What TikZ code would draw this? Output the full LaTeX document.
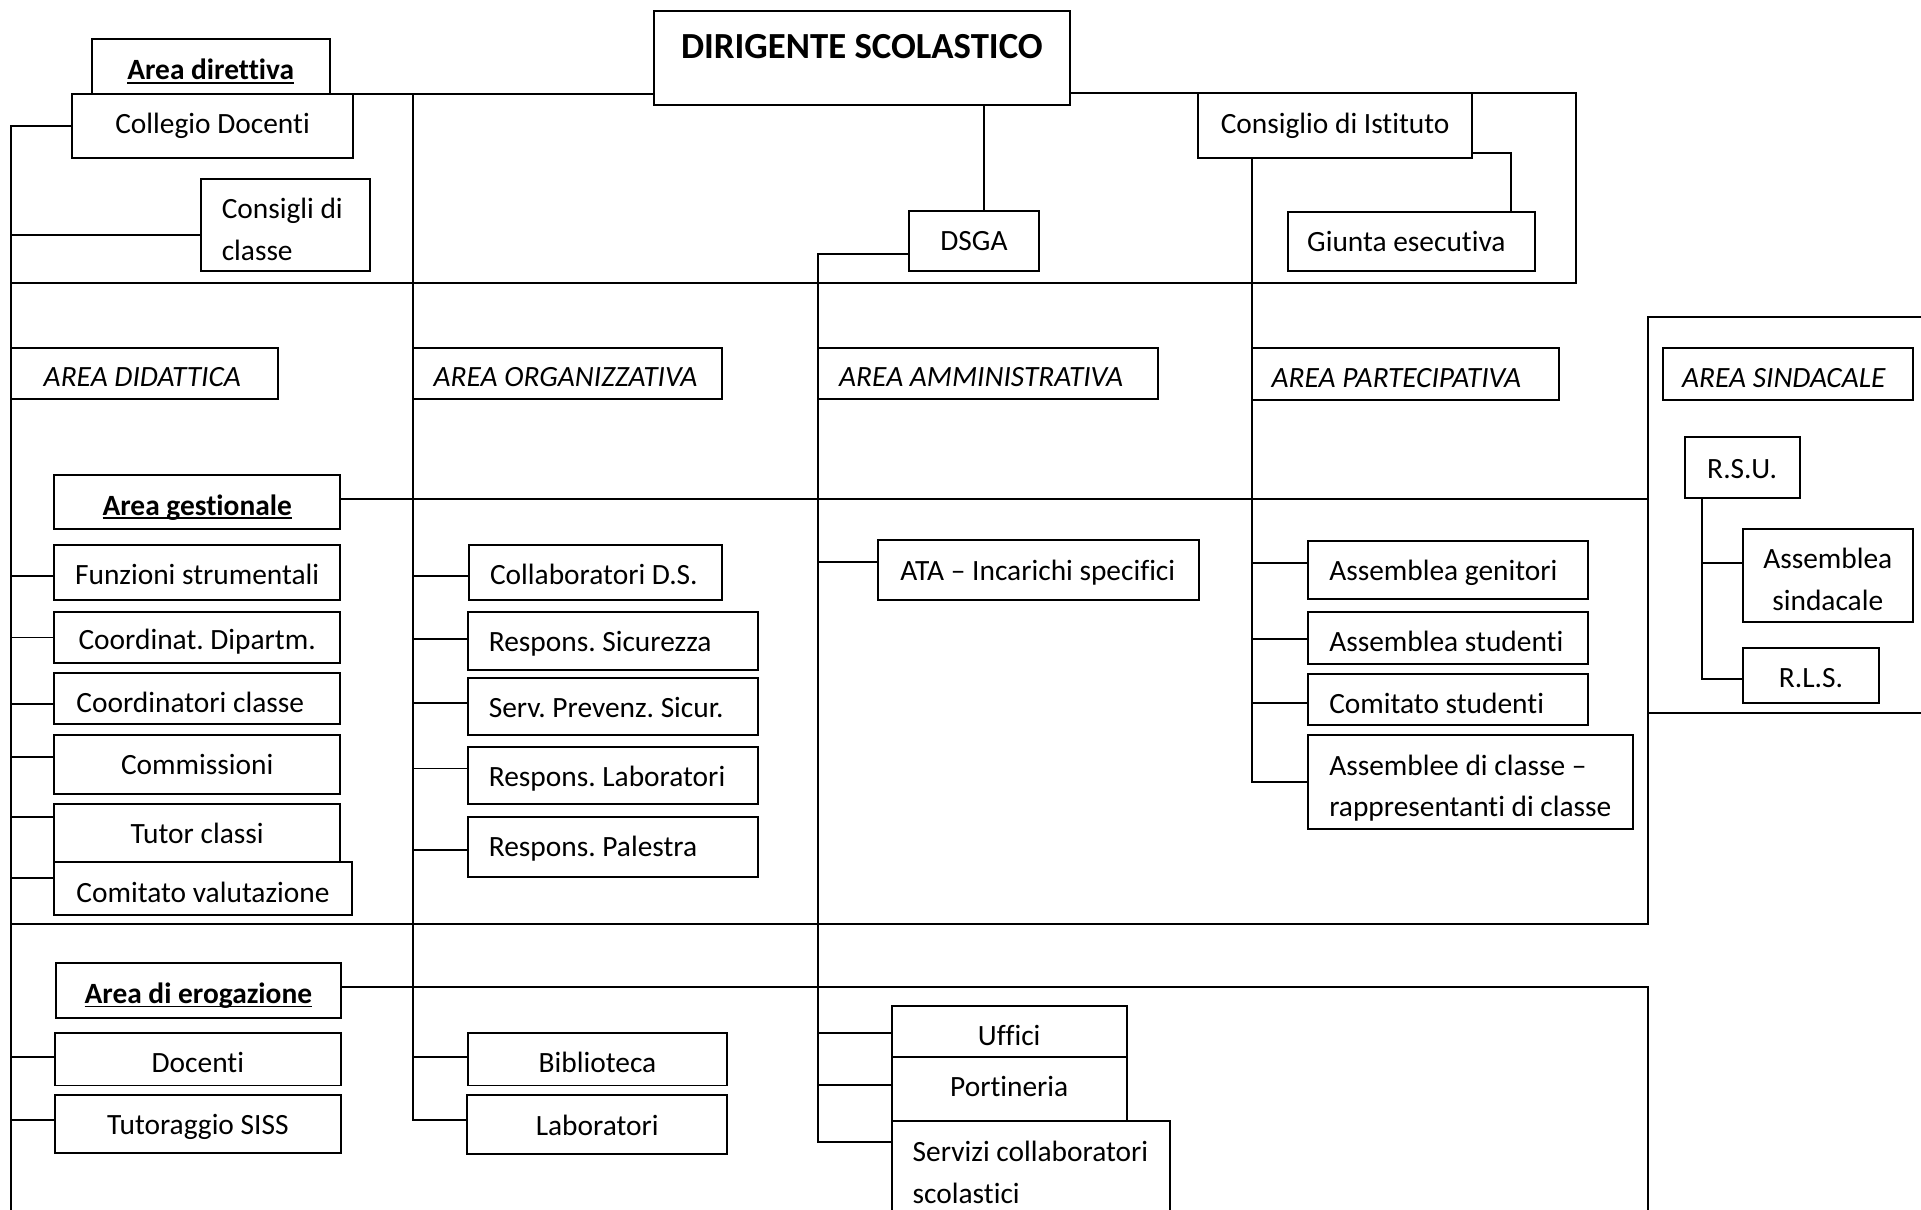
\documentclass[tikz,border=0pt]{standalone}
\usepackage{fontspec}
\setmainfont{Carlito}[Ligatures={NoCommon}]
\frenchspacing
\newsavebox\myulbox
\newcommand{\myul}[1]{\sbox\myulbox{#1}\rlap{\rule[-1.8pt]{\wd\myulbox}{0.8pt}}\usebox\myulbox}
\tikzset{
  shapebox/.style={draw=black, fill=white, rectangle, inner sep=0pt, outer sep=0pt, line width=0.8pt},
  txt/.style={inner sep=0pt, outer sep=0pt, font=\fontsize{12}{17}\selectfont},
  conn/.style={draw=black, line width=0.8pt},
}
% centered box: [text opts]{name}{x1}{y1}{x2}{y2}{text}
\newcommand{\cbox}[7][]{%
  \pgfmathsetmacro{\myW}{(#5-#3)*0.5}%
  \pgfmathsetmacro{\myH}{(#6-#4)*0.5}%
  \node[shapebox, minimum width=\myW pt, minimum height=\myH pt] (#2) at ({(#3+#5)/2},{(#4+#6)/2}) {};
  \node[txt, align=center, #1] (#2t) at (#2.center) {#7};}
% left box: [text opts]{name}{x1}{y1}{x2}{y2}{pad}{text}
\newcommand{\lbox}[8][]{%
  \pgfmathsetmacro{\myW}{(#5-#3)*0.5}%
  \pgfmathsetmacro{\myH}{(#6-#4)*0.5}%
  \node[shapebox, minimum width=\myW pt, minimum height=\myH pt] (#2) at ({(#3+#5)/2},{(#4+#6)/2}) {};
  \node[txt, align=left, anchor=west, #1] (#2t) at ([xshift=#7pt]#2.west) {#8};}
\begin{document}
\begin{tikzpicture}[x=0.5pt,y=-0.5pt]
\useasboundingbox (0,0) rectangle (1568,987);
\clip (0,0) rectangle (1568,987);
\coordinate (bot) at (0,1000);
\coordinate (redge) at (1580,0);
\coordinate (fr) at (1286,0);
\coordinate (sx) at (1345,0);
\coordinate (dx) at (803,0);
\coordinate (yl) at (0,231);
\coordinate (ysft) at (0,258.5);
\coordinate (ysfb) at (0,582);
\coordinate (y754) at (0,754);

% top
\cbox[yshift=-2pt]{adir}{75}{32}{269}{77}{\textbf{\myul{Area direttiva}}}
\cbox{coll}{59}{77}{288}{129}{Collegio Docenti}
\lbox[yshift=-1.75pt]{cons}{164}{146}{302}{221}{8.5}{Consigli di\\classe}
\node[shapebox, minimum width=169.5pt, minimum height=38.5pt] (dir) at (703.5,47.5) {};
\node[txt, font=\fontsize{15}{18}\selectfont\bfseries] (dirt) at ([yshift=-14.4pt]dir.north) {DIRIGENTE SCOLASTICO};
\cbox{dsga}{742}{172}{848}{221}{DSGA}
\cbox{ci}{978}{76}{1201.6}{129}{Consiglio di Istituto}
\lbox{giunta}{1051}{173}{1253}{221}{8}{Giunta esecutiva}
% areas
\lbox[yshift=-1.5pt]{did}{8.7}{284}{227}{326}{13.5}{\textit{AREA DIDATTICA}}
\lbox[yshift=-1.5pt]{org}{337}{284}{589}{326}{8.5}{\textit{AREA ORGANIZZATIVA}}
\lbox[yshift=-1.5pt]{adm}{668}{284}{945}{326}{8.5}{\textit{AREA AMMINISTRATIVA}}
\lbox[yshift=-1.5pt]{part}{1022}{284}{1272.6}{326.5}{8}{\textit{AREA PARTECIPATIVA}}
\lbox[yshift=-1.5pt]{sind}{1357}{284}{1561.5}{326.5}{8}{\textit{AREA SINDACALE}}
% gestionale
\cbox[yshift=-2pt]{gest}{44.4}{388}{277.5}{432}{\textbf{\myul{Area gestionale}}}
\cbox[yshift=-0.75pt]{funz}{44.4}{445}{277.5}{490}{Funzioni strumentali}
\cbox[yshift=-1.5pt]{cdip}{44.4}{499.7}{277.5}{541}{Coordinat. Dipartm.}
\lbox[yshift=-1.5pt]{ccl}{44.4}{549.5}{277.5}{591}{9}{Coordinatori classe}
\cbox{comm}{44.4}{600}{277.5}{647.7}{Commissioni}
\cbox{tut}{44.4}{656.5}{277.5}{703.7}{Tutor classi}
\cbox[yshift=-1.5pt]{cval}{44.4}{703.7}{287}{747}{Comitato valutazione}
\lbox[yshift=-0.5pt]{colds}{383}{445}{589}{490}{8.5}{Collaboratori D.S.}
\lbox[yshift=-1pt]{rsic}{382}{499.7}{618.5}{546.6}{8.5}{Respons. Sicurezza}
\lbox[yshift=-0.5pt]{sprev}{382}{553.5}{618.5}{600}{8.5}{Serv. Prevenz. Sicur.}
\lbox[yshift=-1pt]{rlab}{382}{610}{618.5}{656.5}{8.5}{Respons. Laboratori}
\lbox[yshift=-0.5pt]{rpal}{382}{667}{618.5}{716}{8.5}{Respons. Palestra}
\lbox[yshift=-1pt]{ata}{717}{441}{978.4}{490}{9}{ATA – Incarichi specifici}
\lbox[yshift=-1pt]{agen}{1068}{441.6}{1296}{489}{8.5}{Assemblea genitori}
\lbox[yshift=-1.5pt]{astu}{1068}{499.6}{1296}{541.7}{8.5}{Assemblea studenti}
\lbox[yshift=-1.5pt]{cstu}{1068}{550}{1296}{591.6}{8.5}{Comitato studenti}
\lbox[yshift=-2.5pt]{assc}{1068}{600}{1333}{676.7}{8.5}{Assemblee di classe –\\rappresentanti di classe}
\cbox[yshift=-0.5pt]{rsu}{1375}{357}{1469}{406.5}{R.S.U.}
\cbox[yshift=-1.5pt]{asind}{1422.4}{432}{1561.4}{507.7}{Assemblea\\sindacale}
\cbox[yshift=-1pt]{rls}{1422.4}{529}{1533.8}{574}{R.L.S.}
% erogazione
\cbox[yshift=-2pt]{erog}{45.8}{786}{278}{830.7}{\textbf{\myul{Area di erogazione}}}
\cbox[yshift=-1.5pt]{doc}{45}{843}{278}{886}{Docenti}
\cbox[yshift=-1pt]{tsiss}{45}{894}{278}{941}{Tutoraggio SISS}
\cbox[yshift=-1.5pt]{bib}{382}{843}{593.5}{886}{Biblioteca}
\cbox[yshift=-0.5pt]{labo}{381.5}{894}{593.5}{941.7}{Laboratori}
\cbox[yshift=-1.5pt]{uff}{728}{821}{919.5}{863}{Uffici}
\cbox[yshift=1pt]{port}{728}{863}{919.5}{914.8}{Portineria}
\lbox[yshift=-0.5pt]{serv}{728}{914.8}{955}{997}{8.5}{Servizi collaboratori\\scolastici}

% connectors
\draw[conn] (dir.west |- coll.north) -- (coll.north east);
\draw[conn] (dir.east |- ci.north) -- (fr |- ci.north) -- (fr |- yl) -- (did.west |- yl);
\draw[conn] (dx |- dir.south) -- (dx |- dsga.north);
\draw[conn] ([yshift=2.2pt]ci.south east) -| ([xshift=-9.7pt]giunta.north east);
% left spine
\draw[conn] (coll.west) -| (did.west |- bot);
\foreach \n/\s in {cons/-4.25, funz/-1.25, cdip/0, ccl/-2, comm/3, tut/6.5, cval/4.5, doc/0.75, tsiss/1.75}
  {\draw[conn] ([yshift=\s pt]\n.west) -| (did.west);}
% organizzativa spine
\draw[conn] (org.west |- coll.north) -- (org.west);
\foreach \n/\s in {colds/-1.25, rsic/0.7, sprev/1.4, rlab/3, rpal/-1.25, bib/0.75, labo/2}
  {\draw[conn] ([yshift=\s pt]\n.west) -| (org.west);}
% amministrativa spine
\draw[conn] ([yshift=-5.25pt]dsga.west) -| (adm.west);
\foreach \n/\s in {ata/3.4, uff/-0.5, port/1.5}
  {\draw[conn] ([yshift=\s pt]\n.west) -| (adm.west);}
\draw[conn] ([yshift=-8.5pt]serv.north west) -| (adm.west);
% partecipativa spine
\draw[conn] (part.west |- ci.south) -- (part.west);
\foreach \n/\s in {agen/2.85, astu/-0.5, cstu/-1.6, assc/0}
  {\draw[conn] ([yshift=\s pt]\n.west) -| (part.west);}
% sindacale
\draw[conn] ([yshift=5.1pt]asind.west) -| ([xshift=7pt]rsu.south west);
\draw[conn] ([yshift=-1.25pt]rls.west) -| ([xshift=7pt]rsu.south west);
% area frames
\draw[conn] (redge |- ysft) -- (sx |- ysft) -- (sx |- y754) -- (did.west |- y754);
\draw[conn] (sx |- ysfb) -- (redge |- ysfb);
\draw[conn] ([yshift=1.5pt]gest.east) -| (sx |- ysft);
\draw[conn] ([yshift=1.2pt]erog.east) -| (sx |- bot);
\end{tikzpicture}
\end{document}
